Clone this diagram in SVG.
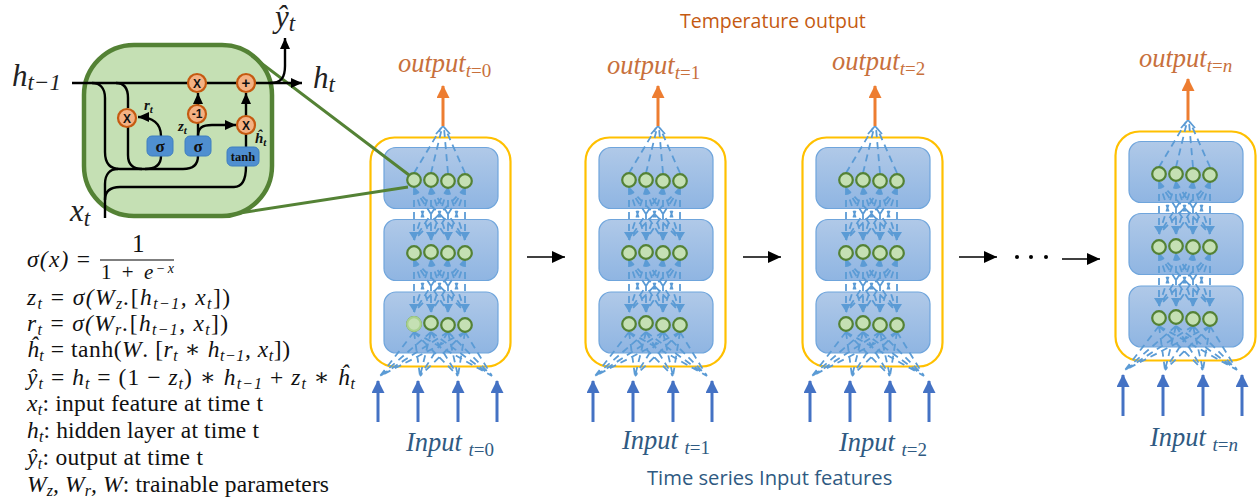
<svg xmlns="http://www.w3.org/2000/svg" xmlns:xlink="http://www.w3.org/1999/xlink" width="1260" height="501" viewBox="0 0 1260 501">
<style>
text{font-family:"Liberation Serif","DejaVu Serif",serif;fill:#111}
.m{font-style:italic}
.u{font-style:normal}
.eq{font-size:23.5px}
.big{font-size:31px;font-style:italic;fill:#222}
.sm{font-size:15px;font-weight:bold;font-style:italic}
.out{font-size:26.5px;font-style:italic;fill:#c8703c}
.inp{font-size:26.5px;font-style:italic;fill:#2f5a82}
.title{font-family:"Open Sans","Liberation Sans",sans-serif;font-size:19.500px}
.k{fill:none;stroke:#000;stroke-width:2.4}
.op{fill:#f4b183;stroke:#c55a11;stroke-width:2.2}
.opt{font-family:"Liberation Sans",sans-serif;font-weight:bold;font-size:12px;text-anchor:middle;fill:#111}
.bb{fill:#4f8fd0;stroke:#3f7fc0;stroke-width:1}
.bt{font-weight:bold;font-size:17px;text-anchor:middle;fill:#111}
.panel{fill:url(#pg);stroke:#6fa5dc;stroke-width:1.2}
.yb{fill:none;stroke:#ffc000;stroke-width:2.2}
.n{fill:#c5e0b4;stroke:#548235;stroke-width:2.2}
.d{fill:none;stroke:#5b9bd5;stroke-width:1.8;stroke-dasharray:7 5}
.blk{stroke:#000;stroke-width:1.3;marker-end:url(#bh);fill:none}
.og{stroke:#ed7d31;stroke-width:3;marker-end:url(#oh);fill:none}
.bl{stroke:#4472c4;stroke-width:3;marker-end:url(#ih);fill:none}
.gl{stroke:#548235;stroke-width:3;fill:none}
</style>
<defs>
<linearGradient id="pg" x1="0" y1="0" x2="0" y2="1"><stop offset="0" stop-color="#b0c9e8"/><stop offset="1" stop-color="#8fb5e2"/></linearGradient>
<marker id="bh" markerUnits="userSpaceOnUse" markerWidth="14" markerHeight="12" refX="13" refY="6" orient="auto"><path d="M0 0L13 6L0 12z" fill="#000"/></marker>
<marker id="kh" markerUnits="userSpaceOnUse" markerWidth="12" markerHeight="10" refX="11" refY="5" orient="auto"><path d="M0 0L11 5L0 10z" fill="#000"/></marker>
<marker id="oh" markerUnits="userSpaceOnUse" markerWidth="14" markerHeight="14" refX="12" refY="6.5" orient="auto"><path d="M0 0L13 6.5L0 13z" fill="#ed7d31"/></marker>
<marker id="ih" markerUnits="userSpaceOnUse" markerWidth="14" markerHeight="14" refX="12" refY="6.5" orient="auto"><path d="M0 0L13 6.5L0 13z" fill="#4472c4"/></marker>
<g id="fan">
<path class="d" d="M414 188L414 240M414 188L431 240M414 188L448 240M414 188L465 240M431 188L414 240M431 188L431 240M431 188L448 240M431 188L465 240M448 188L414 240M448 188L431 240M448 188L448 240M448 188L465 240M465 188L414 240M465 188L431 240M465 188L448 240M465 188L465 240"/>
<path d="M409 232h10l-5 8zM426 232h10l-5 8zM443 232h10l-5 8zM460 232h10l-5 8z" fill="#5b9bd5"/>
</g>
<g id="cell">
<rect class="yb" x="370.500" y="137.500" width="140" height="229" rx="24"/>
<rect class="panel" x="384" y="147.500" width="114" height="61" rx="12"/>
<rect class="panel" x="384" y="219.500" width="114" height="61" rx="12"/>
<rect class="panel" x="384" y="292" width="114" height="61" rx="12"/>
<path class="d" d="M414 173L441 128M431 173L442 128M448 173L444 128M465 173L445 128"/>
<path class="d" d="M436 134L443 126L450 134" style="stroke-dasharray:none"/>
<use href="#fan"/>
<use href="#fan" y="72"/>
<path class="d" d="M414 332L380 376M414 332L420 376M414 332L458 376M414 332L492 376M431 332L380 376M431 332L420 376M431 332L458 376M431 332L492 376M448 332L380 376M448 332L420 376M448 332L458 376M448 332L492 376M465 332L380 376M465 332L420 376M465 332L458 376M465 332L492 376"/>
<circle class="n" cx="414" cy="180" r="6.800"/><circle class="n" cx="431" cy="180" r="6.800"/><circle class="n" cx="448" cy="181" r="6.800"/><circle class="n" cx="465" cy="181" r="6.800"/>
<circle class="n" cx="414" cy="253" r="6.800"/><circle class="n" cx="431" cy="252" r="6.800"/><circle class="n" cx="448" cy="253" r="6.800"/><circle class="n" cx="465" cy="253" r="6.800"/>
<circle class="n" cx="414" cy="324" r="6.800"/><circle class="n" cx="431" cy="323" r="6.800"/><circle class="n" cx="448" cy="325" r="6.800"/><circle class="n" cx="465" cy="325" r="6.800"/>
</g>
</defs>

<g id="gru-cell">
<rect x="84" y="45" width="188" height="171" rx="50" fill="#c5e0b4" stroke="#548235" stroke-width="4.500"/>
</g>

<g id="column-0"><use href="#cell"/><circle cx="414" cy="324" r="6.800" fill="#c5e0b4" stroke="#a9d18e" stroke-width="2.200"/></g>
<g id="column-1"><use href="#cell" x="215"/></g>
<g id="column-2"><use href="#cell" x="432"/></g>
<g id="column-n"><use href="#cell" x="745" y="-6"/></g>

<g id="connectors">
<path class="gl" d="M252 56L409 175M240 213L408 187"/>
<path class="k" d="M72 83H302" marker-end="url(#kh)"/>
<path class="k" d="M92 83C100 83 105 88 105 98V152C105 163 110 169 120 169H183C192 169 198 165 198 156"/>
<path class="k" d="M116 83C124 83 128 88 128 98V108M128 127V155C128 164 133 169 142 169"/>
<path class="k" d="M105 218V184C105 174 110 169 118 169"/>
<path class="k" d="M105 200C105 191 110 187 120 187H234C242 187 246 181 246 166"/>
<path class="k" d="M145 169C155 169 161 165 161 156"/>
<path class="k" d="M161 136C161 124 153 117 138 117" marker-end="url(#kh)"/>
<path class="k" d="M198 136V123"/>
<path class="k" d="M198 105V93" marker-end="url(#kh)"/>
<path class="k" d="M198 136C198 128 202 125 212 125H236" marker-end="url(#kh)"/>
<path class="k" d="M246 147V134"/>
<path class="k" d="M246 116V93" marker-end="url(#kh)"/>
<path class="k" d="M270 83C281 83 285 78 285 66V38" marker-end="url(#kh)"/>
<path class="og" d="M443 126V86"/><path class="og" d="M658 126V86"/><path class="og" d="M875 126V86"/><path class="og" d="M1188 120V79"/>
<path class="bl" d="M378 422V381"/><path class="bl" d="M418 422V381"/><path class="bl" d="M458 422V381"/><path class="bl" d="M497 422V381"/>
<path class="bl" d="M593 422V381"/><path class="bl" d="M633 422V381"/><path class="bl" d="M673 422V381"/><path class="bl" d="M712 422V381"/>
<path class="bl" d="M810 422V381"/><path class="bl" d="M850 422V381"/><path class="bl" d="M890 422V381"/><path class="bl" d="M929 422V381"/>
<path class="bl" d="M1123 416V375"/><path class="bl" d="M1163 416V375"/><path class="bl" d="M1203 416V375"/><path class="bl" d="M1242 416V375"/>
<path class="blk" d="M527 257H565"/><path class="blk" d="M743 257H781"/><path class="blk" d="M959 257H997"/><path class="blk" d="M1062 259H1100"/>
<path d="M100 260H174" stroke="#000" stroke-width="1.200"/>
</g>

<g id="op-x1"><circle class="op" cx="127" cy="118" r="9"/><text class="opt" x="127" y="122.500">X</text></g>
<g id="op-x2"><circle class="op" cx="197" cy="83" r="9"/><text class="opt" x="197" y="87.500">X</text></g>
<g id="op-plus"><circle class="op" cx="246" cy="83" r="9"/><text class="opt" x="246" y="88" style="font-size:15px">+</text></g>
<g id="op-minus"><circle class="op" cx="197" cy="114" r="9"/><text class="opt" x="197" y="118">-1</text></g>
<g id="op-x3"><circle class="op" cx="246" cy="125" r="9"/><text class="opt" x="246" y="129.500">X</text></g>
<g id="sigma-r"><rect class="bb" x="147" y="136" width="26" height="20" rx="5"/><text class="bt" x="160" y="152">σ</text></g>
<g id="sigma-z"><rect class="bb" x="185" y="136" width="26" height="20" rx="5"/><text class="bt" x="198" y="152">σ</text></g>
<g id="tanh"><rect class="bb" x="227" y="147" width="32" height="19" rx="5"/><text class="bt" x="243" y="161" style="font-size:12.500px">tanh</text></g>

<g id="labels">
<text class="big" x="275" y="27">ŷ<tspan dy="4" font-size="23">t</tspan></text>
<text class="big" x="313" y="88">h<tspan dy="4" font-size="23">t</tspan></text>
<text class="big" x="12" y="86">h<tspan dy="4" font-size="23">t−1</tspan></text>
<text class="big" x="70" y="221">x<tspan dy="5" font-size="23">t</tspan></text>
<text class="sm" x="144" y="110">r<tspan dy="3" font-size="11">t</tspan></text>
<text class="sm" x="178" y="131">z<tspan dy="3" font-size="11">t</tspan></text>
<text class="sm" x="255" y="143">ĥ<tspan dy="3" font-size="11">t</tspan></text>

<text class="title" x="680" y="28" style="fill:#c55a11">Temperature output</text>
<text class="title" x="647" y="485" style="fill:#2f5a82;font-size:20.200px">Time series Input features</text>

<text class="out" x="398" y="72">output<tspan dy="5" font-size="19">t<tspan class="u">=0</tspan></tspan></text>
<text class="out" x="607" y="74">output<tspan dy="5" font-size="19">t<tspan class="u">=1</tspan></tspan></text>
<text class="out" x="832" y="70">output<tspan dy="5" font-size="19">t<tspan class="u">=2</tspan></tspan></text>
<text class="out" x="1139" y="67">output<tspan dy="5" font-size="19">t<tspan class="u">=</tspan>n</tspan></text>
<text class="inp" x="406" y="451">Input <tspan dy="5" font-size="19">t<tspan class="u">=0</tspan></tspan></text>
<text class="inp" x="622" y="449">Input <tspan dy="5" font-size="19">t<tspan class="u">=1</tspan></tspan></text>
<text class="inp" x="839" y="451">Input <tspan dy="5" font-size="19">t<tspan class="u">=2</tspan></tspan></text>
<text class="inp" x="1150" y="446">Input <tspan dy="5" font-size="19">t<tspan class="u">=</tspan>n</tspan></text>

<text class="eq" x="132" y="252" style="font-size:25px">1</text>
<text class="eq m" x="27" y="267" textLength="63">σ(x) <tspan class="u">=</tspan></text>
<text x="101" y="279" textLength="73" style="font-size:21px">1 + <tspan class="m">e</tspan><tspan dy="-6" font-size="14" class="m">−x</tspan></text>
<text class="eq m" x="27" y="305" textLength="203">z<tspan dy="4" font-size="16">t</tspan><tspan dy="-4" class="u"> =  </tspan>σ(W<tspan dy="4" font-size="16">z</tspan><tspan dy="-4">.</tspan><tspan class="u">[</tspan>h<tspan dy="4" font-size="16">t−1</tspan><tspan dy="-4">, x</tspan><tspan dy="4" font-size="16">t</tspan><tspan dy="-4" class="u">])</tspan></text>
<text class="eq m" x="27" y="331" textLength="201">r<tspan dy="4" font-size="16">t</tspan><tspan dy="-4" class="u"> =  </tspan>σ(W<tspan dy="4" font-size="16">r</tspan><tspan dy="-4">.</tspan><tspan class="u">[</tspan>h<tspan dy="4" font-size="16">t−1</tspan><tspan dy="-4">, x</tspan><tspan dy="4" font-size="16">t</tspan><tspan dy="-4" class="u">])</tspan></text>
<text class="eq m" x="27" y="357" textLength="263">ĥ<tspan dy="4" font-size="16">t</tspan><tspan dy="-4" class="u"> = tanh(</tspan>W<tspan class="u">. [</tspan>r<tspan dy="4" font-size="16">t</tspan><tspan dy="-4" class="u"> ∗ </tspan>h<tspan dy="4" font-size="16">t−1</tspan><tspan dy="-4">, x</tspan><tspan dy="4" font-size="16">t</tspan><tspan dy="-4" class="u">])</tspan></text>
<text class="eq m" x="27" y="385" textLength="328">ŷ<tspan dy="4" font-size="16">t</tspan><tspan dy="-4" class="u"> =  </tspan>h<tspan dy="4" font-size="16">t</tspan><tspan dy="-4" class="u"> = (1 − </tspan>z<tspan dy="4" font-size="16">t</tspan><tspan dy="-4" class="u">) ∗ </tspan>h<tspan dy="4" font-size="16">t−1</tspan><tspan dy="-4" class="u"> + </tspan>z<tspan dy="4" font-size="16">t</tspan><tspan dy="-4" class="u"> ∗ </tspan>ĥ<tspan dy="4" font-size="16">t</tspan></text>
<text class="eq m" x="27" y="411" textLength="236">x<tspan dy="4" font-size="16">t</tspan><tspan dy="-4" class="u">: input feature at time t</tspan></text>
<text class="eq m" x="27" y="438" textLength="232">h<tspan dy="4" font-size="16">t</tspan><tspan dy="-4" class="u">: hidden layer at time t</tspan></text>
<text class="eq m" x="27" y="465" textLength="176">ŷ<tspan dy="4" font-size="16">t</tspan><tspan dy="-4" class="u">: output at time t</tspan></text>
<text class="eq m" x="27" y="492" textLength="302">W<tspan dy="4" font-size="16">z</tspan><tspan dy="-4">, W</tspan><tspan dy="4" font-size="16">r</tspan><tspan dy="-4">, W</tspan><tspan class="u">: trainable parameters</tspan></text>
</g>
<g id="dots" fill="#000"><circle cx="1017" cy="257" r="2"/><circle cx="1031" cy="257" r="2"/><circle cx="1046" cy="257" r="2"/></g>
</svg>
